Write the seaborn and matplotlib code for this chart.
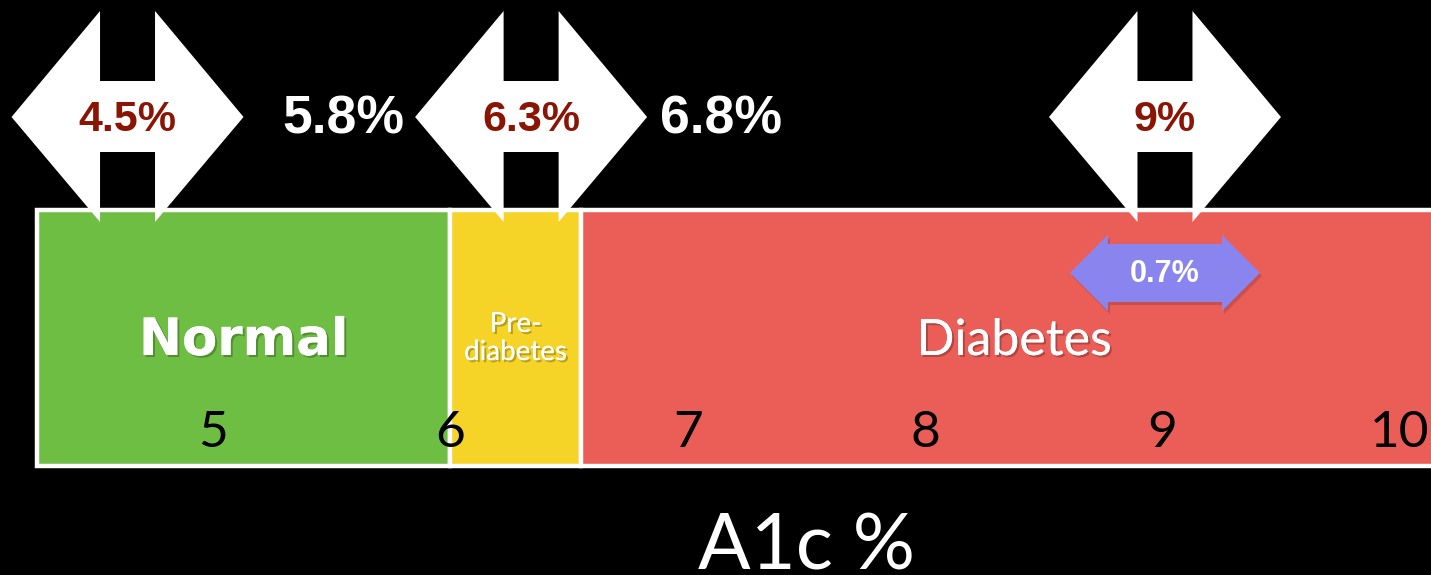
import matplotlib
matplotlib.use("Agg")
import matplotlib.pyplot as plt
from matplotlib.patches import Polygon
import matplotlib.patheffects as pe
import seaborn as sns
import pandas as pd

# =========================================
# data
# =========================================
band_names = ["Normal", "Pre-\ndiabetes", "Diabetes"]
band_start = [4.26, 6.0, 6.55]
band_end = [6.0, 6.55, 10.2]
band_colors = ["#6FBE44", "#F5D327", "#EB5E58"]

tick_values = [5, 6, 7, 8, 9, 10]

arrow_centers = [4.64, 6.34, 9.01]
arrow_labels = ["4.5%", "6.3%", "9%"]

cut_labels = ["5.8%", "6.8%"]
cut_positions = [5.55, 7.14]

spread_center = 9.01
spread_label = "0.7%"

axis_title = "A1c %"
axis_title_x = 7.5

df = pd.DataFrame({"band": band_names, "start": band_start, "end": band_end,
                   "color": band_colors})
df["width"] = df["end"] - df["start"]
df["mid"] = (df["start"] + df["end"]) / 2

# =========================================
# figure
# =========================================
sns.set_style("dark")
plt.rcParams["font.family"] = ["Lato", "DejaVu Sans"]

fig = plt.figure(figsize=(14.31, 5.75), dpi=100, facecolor="black")
ax = fig.add_axes([0, 0, 1, 1])
ax.set_facecolor("black")

PX = 237.4  # pixels per A1c unit
ax.set_xlim(5 - 213 / PX, 5 + 1218 / PX)
ax.set_ylim(575, 0)
ax.axis("off")

# bands
ax.barh(y=338, width=df["width"], left=df["start"], height=256,
        color=df["color"], edgecolor="white", linewidth=3.2, zorder=1)

shadow = [pe.withSimplePatchShadow(offset=(1.5, -1.5), shadow_rgbFace="black", alpha=0.25),
          pe.Normal()]
ax.text(df["mid"][0], 341, "Normal", color="white", fontsize=37, fontweight="bold",
        family=["DejaVu Sans"], ha="center", va="center", zorder=3, path_effects=shadow)
ax.text(df["mid"][1], 338, df["band"][1], color="white", fontsize=20,
        ha="center", va="center", linespacing=1.1, zorder=3, path_effects=shadow)
ax.text(df["mid"][2], 341, "Diabetes", color="white", fontsize=36,
        ha="center", va="center", zorder=3, path_effects=shadow)

# tick labels inside the bar
for t in tick_values:
    ax.text(t, 433, str(t), color="black", fontsize=37, ha="center", va="center",
            zorder=4)

# big white double arrows
def big_arrow(cx):
    pts = [(-116, 0), (-27.5, -106), (-27.5, -36), (27.5, -36), (27.5, -106),
           (116, 0), (27.5, 105), (27.5, 35), (-27.5, 35), (-27.5, 105)]
    return [(cx + dx / PX, 117 + dy) for dx, dy in pts]

for cx, lab in zip(arrow_centers, arrow_labels):
    ax.add_patch(Polygon(big_arrow(cx), closed=True, facecolor="white",
                         edgecolor="none", zorder=5))
    ax.text(cx, 120, lab, color="#8B1505", fontsize=31, fontweight="bold",
            family=["Liberation Sans", "DejaVu Sans"], ha="center", va="center", zorder=6)

for x, lab in zip(cut_positions, cut_labels):
    ax.text(x, 119, lab, color="white", fontsize=38.5, fontweight="bold",
            family=["Liberation Sans", "DejaVu Sans"], ha="center", va="center", zorder=6)

# small purple arrow
def small_arrow(cx, cy, ox=0, oy=0):
    pts = [(-95, 0), (-57, -38), (-57, -29), (57, -29), (57, -38),
           (95, 0), (57, 38), (57, 29), (-57, 29), (-57, 38)]
    return [(cx + (dx + ox) / PX, cy + dy + oy) for dx, dy in pts]

ax.add_patch(Polygon(small_arrow(spread_center, 273, 2, 3), closed=True,
                     facecolor="#7A2E2A", alpha=0.3, edgecolor="none", zorder=5))
ax.add_patch(Polygon(small_arrow(spread_center, 273), closed=True,
                     facecolor="#8A85EE", edgecolor="none", zorder=6))
ax.text(spread_center, 274, spread_label, color="white", fontsize=22, fontweight="bold",
        family=["Liberation Sans", "DejaVu Sans"], ha="center", va="center", zorder=7)

# axis title
ax.text(axis_title_x, 569, axis_title, color="white", fontsize=56, ha="center",
        va="baseline", zorder=3)

fig.savefig("out.png", dpi=100, facecolor="black")
